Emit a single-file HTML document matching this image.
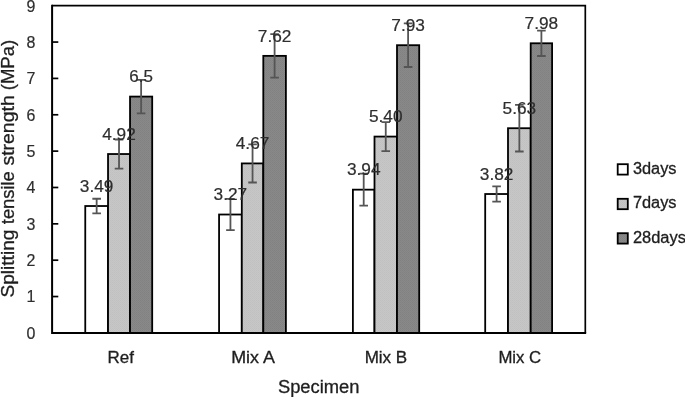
<!DOCTYPE html>
<html lang="en">
<head>
<meta charset="utf-8">
<title>Splitting tensile strength</title>
<style>
html,body{margin:0;padding:0;background:#fff;}
body{width:685px;height:397px;overflow:hidden;}
svg{display:block;}
text{font-family:"Liberation Sans",sans-serif;fill:#2e2e2e;stroke:#2e2e2e;stroke-width:0.2px;}
text.k{fill:#1e1e1e;stroke:#1e1e1e;stroke-width:0.3px;}
</style>
</head>
<body>
<svg width="685" height="397" viewBox="0 0 685 397">
<defs>
<pattern id="lg" width="2" height="2" patternUnits="userSpaceOnUse"><rect width="2" height="2" fill="#c7c7c7"/><rect width="1" height="1" fill="#c0c0c0"/><rect x="1" y="1" width="1" height="1" fill="#c2c2c2"/></pattern>
<pattern id="dg" width="2" height="2" patternUnits="userSpaceOnUse"><rect width="2" height="2" fill="#898989"/><rect width="1" height="1" fill="#818181"/><rect x="1" y="1" width="1" height="1" fill="#848484"/></pattern>
</defs>
<rect x="0" y="0" width="685" height="397" fill="#fff"/>
<rect x="85.26" y="206.02" width="22.77" height="126.88" fill="#ffffff" stroke="#000" stroke-width="1.8"/>
<rect x="108.03" y="154.03" width="22.01" height="178.87" fill="url(#lg)" stroke="#000" stroke-width="1.8"/>
<rect x="130.04" y="96.59" width="22.16" height="236.31" fill="url(#dg)" stroke="#000" stroke-width="1.8"/>
<rect x="219.07" y="214.52" width="22.73" height="118.38" fill="#ffffff" stroke="#000" stroke-width="1.8"/>
<rect x="241.80" y="163.42" width="21.50" height="169.48" fill="url(#lg)" stroke="#000" stroke-width="1.8"/>
<rect x="263.30" y="55.87" width="22.60" height="277.03" fill="url(#dg)" stroke="#000" stroke-width="1.8"/>
<rect x="352.90" y="189.66" width="21.60" height="143.24" fill="#ffffff" stroke="#000" stroke-width="1.8"/>
<rect x="374.50" y="136.58" width="22.50" height="196.32" fill="url(#lg)" stroke="#000" stroke-width="1.8"/>
<rect x="397.00" y="45.20" width="22.20" height="287.70" fill="url(#dg)" stroke="#000" stroke-width="1.8"/>
<rect x="485.20" y="194.02" width="22.80" height="138.88" fill="#ffffff" stroke="#000" stroke-width="1.8"/>
<rect x="508.00" y="128.22" width="22.70" height="204.68" fill="url(#lg)" stroke="#000" stroke-width="1.8"/>
<rect x="530.70" y="43.28" width="21.40" height="289.62" fill="url(#dg)" stroke="#000" stroke-width="1.8"/>
<path d="M52.1 5.7 H585.3 V332.9" fill="none" stroke="#000" stroke-width="1.7"/>
<path d="M52.1 4.8500000000000005 V332.9 H586.15" fill="none" stroke="#000" stroke-width="2" stroke-linejoin="miter"/>
<text x="35.3" y="338.70" font-size="17" text-anchor="end" textLength="8.9" lengthAdjust="spacingAndGlyphs">0</text>
<line x1="52.1" y1="296.54" x2="58.300000000000004" y2="296.54" stroke="#000" stroke-width="1.7"/>
<text x="35.3" y="302.34" font-size="17" text-anchor="end" textLength="8.9" lengthAdjust="spacingAndGlyphs">1</text>
<line x1="52.1" y1="260.19" x2="58.300000000000004" y2="260.19" stroke="#000" stroke-width="1.7"/>
<text x="35.3" y="265.99" font-size="17" text-anchor="end" textLength="8.9" lengthAdjust="spacingAndGlyphs">2</text>
<line x1="52.1" y1="223.83" x2="58.300000000000004" y2="223.83" stroke="#000" stroke-width="1.7"/>
<text x="35.3" y="229.63" font-size="17" text-anchor="end" textLength="8.9" lengthAdjust="spacingAndGlyphs">3</text>
<line x1="52.1" y1="187.48" x2="58.300000000000004" y2="187.48" stroke="#000" stroke-width="1.7"/>
<text x="35.3" y="193.28" font-size="17" text-anchor="end" textLength="8.9" lengthAdjust="spacingAndGlyphs">4</text>
<line x1="52.1" y1="151.12" x2="58.300000000000004" y2="151.12" stroke="#000" stroke-width="1.7"/>
<text x="35.3" y="156.92" font-size="17" text-anchor="end" textLength="8.9" lengthAdjust="spacingAndGlyphs">5</text>
<line x1="52.1" y1="114.77" x2="58.300000000000004" y2="114.77" stroke="#000" stroke-width="1.7"/>
<text x="35.3" y="120.57" font-size="17" text-anchor="end" textLength="8.9" lengthAdjust="spacingAndGlyphs">6</text>
<line x1="52.1" y1="78.41" x2="58.300000000000004" y2="78.41" stroke="#000" stroke-width="1.7"/>
<text x="35.3" y="84.21" font-size="17" text-anchor="end" textLength="8.9" lengthAdjust="spacingAndGlyphs">7</text>
<line x1="52.1" y1="42.06" x2="58.300000000000004" y2="42.06" stroke="#000" stroke-width="1.7"/>
<text x="35.3" y="47.86" font-size="17" text-anchor="end" textLength="8.9" lengthAdjust="spacingAndGlyphs">8</text>
<text x="35.3" y="11.50" font-size="17" text-anchor="end" textLength="8.9" lengthAdjust="spacingAndGlyphs">9</text>
<path d="M96.65 198.75 V213.29 M92.35 198.75 h8.6 M92.35 213.29 h8.6" fill="none" stroke="#555" stroke-width="1.8"/>
<path d="M119.03 139.49 V168.57 M114.73 139.49 h8.6 M114.73 168.57 h8.6" fill="none" stroke="#555" stroke-width="1.8"/>
<path d="M141.12 79.87 V113.31 M136.82 79.87 h8.6 M136.82 113.31 h8.6" fill="none" stroke="#555" stroke-width="1.8"/>
<path d="M230.44 198.88 V230.15 M226.13 198.88 h8.6 M226.13 230.15 h8.6" fill="none" stroke="#555" stroke-width="1.8"/>
<path d="M252.55 144.33 V182.51 M248.25 144.33 h8.6 M248.25 182.51 h8.6" fill="none" stroke="#555" stroke-width="1.8"/>
<path d="M274.60 34.06 V77.68 M270.30 34.06 h8.6 M270.30 77.68 h8.6" fill="none" stroke="#555" stroke-width="1.8"/>
<path d="M363.70 173.66 V205.66 M359.40 173.66 h8.6 M359.40 205.66 h8.6" fill="none" stroke="#555" stroke-width="1.8"/>
<path d="M385.75 122.04 V151.12 M381.45 122.04 h8.6 M381.45 151.12 h8.6" fill="none" stroke="#555" stroke-width="1.8"/>
<path d="M408.10 23.39 V67.01 M403.80 23.39 h8.6 M403.80 67.01 h8.6" fill="none" stroke="#555" stroke-width="1.8"/>
<path d="M496.60 186.39 V201.66 M492.30 186.39 h8.6 M492.30 201.66 h8.6" fill="none" stroke="#555" stroke-width="1.8"/>
<path d="M519.35 104.95 V151.49 M515.05 104.95 h8.6 M515.05 151.49 h8.6" fill="none" stroke="#555" stroke-width="1.8"/>
<path d="M541.40 30.56 V56.01 M537.10 30.56 h8.6 M537.10 56.01 h8.6" fill="none" stroke="#555" stroke-width="1.8"/>
<text x="96.65" y="191.82" font-size="16.2" text-anchor="middle" textLength="33.6" lengthAdjust="spacingAndGlyphs">3.49</text>
<text x="119.03" y="139.83" font-size="16.2" text-anchor="middle" textLength="33.6" lengthAdjust="spacingAndGlyphs">4.92</text>
<text x="141.12" y="82.39" font-size="16.2" text-anchor="middle" textLength="23.6" lengthAdjust="spacingAndGlyphs">6.5</text>
<text x="230.44" y="200.32" font-size="16.2" text-anchor="middle" textLength="33.6" lengthAdjust="spacingAndGlyphs">3.27</text>
<text x="252.55" y="149.22" font-size="16.2" text-anchor="middle" textLength="33.6" lengthAdjust="spacingAndGlyphs">4.67</text>
<text x="274.60" y="41.67" font-size="16.2" text-anchor="middle" textLength="33.6" lengthAdjust="spacingAndGlyphs">7.62</text>
<text x="363.70" y="175.46" font-size="16.2" text-anchor="middle" textLength="33.6" lengthAdjust="spacingAndGlyphs">3.94</text>
<text x="385.75" y="122.38" font-size="16.2" text-anchor="middle" textLength="33.6" lengthAdjust="spacingAndGlyphs">5.40</text>
<text x="408.10" y="31.00" font-size="16.2" text-anchor="middle" textLength="33.6" lengthAdjust="spacingAndGlyphs">7.93</text>
<text x="496.60" y="179.82" font-size="16.2" text-anchor="middle" textLength="33.6" lengthAdjust="spacingAndGlyphs">3.82</text>
<text x="519.35" y="114.02" font-size="16.2" text-anchor="middle" textLength="33.6" lengthAdjust="spacingAndGlyphs">5.63</text>
<text x="541.40" y="29.08" font-size="16.2" text-anchor="middle" textLength="33.6" lengthAdjust="spacingAndGlyphs">7.98</text>
<text class="k" x="120.70" y="362.8" font-size="15.9" text-anchor="middle" textLength="26.4" lengthAdjust="spacingAndGlyphs">Ref</text>
<text class="k" x="253.05" y="362.8" font-size="15.9" text-anchor="middle" textLength="43.8" lengthAdjust="spacingAndGlyphs">Mix A</text>
<text class="k" x="385.95" y="362.8" font-size="15.9" text-anchor="middle" textLength="42.6" lengthAdjust="spacingAndGlyphs">Mix B</text>
<text class="k" x="519.80" y="362.8" font-size="15.9" text-anchor="middle" textLength="42.8" lengthAdjust="spacingAndGlyphs">Mix C</text>
<text class="k" x="318.7" y="392.7" font-size="17.6" text-anchor="middle" textLength="81.6" lengthAdjust="spacingAndGlyphs">Specimen</text>
<text class="k" transform="translate(14.2 0) rotate(-90)" font-size="18.2"><tspan x="-297.6" textLength="68.0" lengthAdjust="spacingAndGlyphs">Splitting</tspan> <tspan x="-224.2" textLength="53.0" lengthAdjust="spacingAndGlyphs">tensile</tspan> <tspan x="-165.6" textLength="70.3" lengthAdjust="spacingAndGlyphs">strength</tspan> <tspan x="-90.3" textLength="50.6" lengthAdjust="spacingAndGlyphs">(MPa)</tspan></text>
<rect x="617.7" y="164.20" width="10.1" height="10.4" fill="#fff" stroke="#000" stroke-width="1.8"/>
<text class="k" x="632.9" y="173.50" font-size="16" textLength="43.6" lengthAdjust="spacingAndGlyphs">3days</text>
<rect x="617.7" y="198.80" width="10.1" height="10.4" fill="url(#lg)" stroke="#000" stroke-width="1.8"/>
<text class="k" x="632.9" y="208.10" font-size="16" textLength="43.6" lengthAdjust="spacingAndGlyphs">7days</text>
<rect x="617.7" y="233.20" width="10.1" height="10.4" fill="url(#dg)" stroke="#000" stroke-width="1.8"/>
<text class="k" x="632.9" y="242.50" font-size="16" textLength="53" lengthAdjust="spacingAndGlyphs">28days</text>
</svg>
</body>
</html>
